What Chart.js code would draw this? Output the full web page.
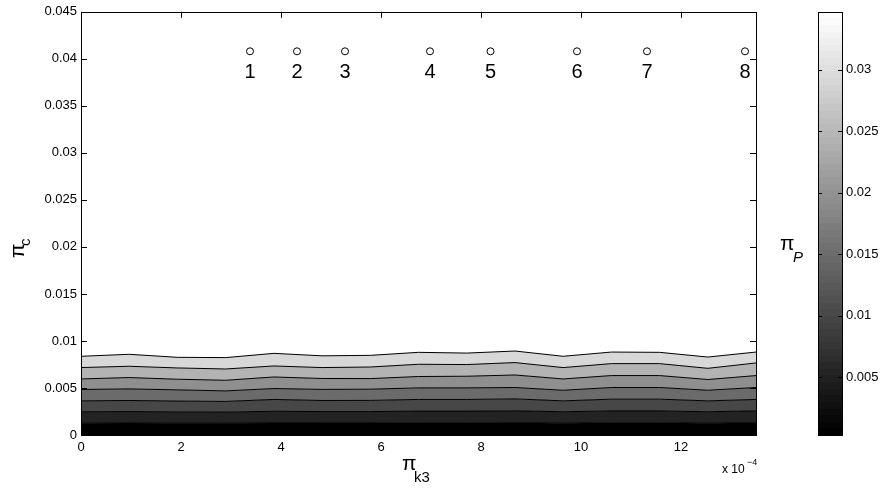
<!DOCTYPE html>
<html>
<head>
<meta charset="utf-8">
<script src="https://cdn.jsdelivr.net/npm/chart.js@4.4.1/dist/chart.umd.min.js"></script>
<style>
  html, body { margin: 0; padding: 0; background: #fff; }
  #wrap { position: relative; width: 881px; height: 489px; }
  #wrap canvas { position: absolute; left: 0; top: 0; }
</style>
</head>
<body>
<div id="wrap">
  <canvas id="main" width="881" height="489"></canvas>
  <canvas id="cbar" width="881" height="489"></canvas>
</div>
<script>
// π_k3 sample grid, in units of 1e-4 (axis multiplier shown as "x 10^-4")
const k3Grid = [0, 0.964, 1.929, 2.893, 3.857, 4.821, 5.786, 6.750, 7.714, 8.679, 9.643, 10.607, 11.571, 12.536, 13.5];

// π_c along each π_P iso-line, lowest level first
const isoLine1 = [0.00126, 0.00127, 0.00126, 0.00125, 0.00128, 0.00127, 0.00127, 0.00129, 0.00129, 0.00130, 0.00126, 0.00129, 0.00129, 0.00126, 0.00130];
const isoLine2 = [0.00247, 0.00249, 0.00246, 0.00244, 0.00252, 0.00249, 0.00249, 0.00254, 0.00254, 0.00257, 0.00247, 0.00256, 0.00256, 0.00247, 0.00257];
const isoLine3 = [0.00363, 0.00367, 0.00361, 0.00357, 0.00378, 0.00367, 0.00368, 0.00378, 0.00378, 0.00384, 0.00363, 0.00381, 0.00381, 0.00363, 0.00378];
const isoLine4 = [0.00484, 0.00490, 0.00480, 0.00469, 0.00494, 0.00485, 0.00487, 0.00501, 0.00501, 0.00505, 0.00476, 0.00505, 0.00505, 0.00476, 0.00505];
const isoLine5 = [0.00596, 0.00611, 0.00593, 0.00582, 0.00617, 0.00601, 0.00600, 0.00622, 0.00625, 0.00638, 0.00596, 0.00632, 0.00632, 0.00590, 0.00632];
const isoLine6 = [0.00717, 0.00731, 0.00713, 0.00702, 0.00734, 0.00717, 0.00723, 0.00752, 0.00749, 0.00770, 0.00717, 0.00759, 0.00759, 0.00709, 0.00766];
const isoLine7 = [0.00837, 0.00858, 0.00826, 0.00823, 0.00868, 0.00842, 0.00847, 0.00879, 0.00871, 0.00893, 0.00837, 0.00882, 0.00879, 0.00829, 0.00882];

// numbered operating points
const pointK3 = [3.38, 4.32, 5.28, 6.98, 8.19, 9.92, 11.32, 13.28];
const pointPc = [0.0408, 0.0408, 0.0408, 0.0408, 0.0408, 0.0408, 0.0408, 0.0408];
const pointNames = ['1', '2', '3', '4', '5', '6', '7', '8'];

// axis ticks
const xTicks = [0, 2, 4, 6, 8, 10, 12];
const yTicks = [0, 0.005, 0.01, 0.015, 0.02, 0.025, 0.03, 0.035, 0.04, 0.045];
// colour bar range and ticks (π_P)
const pPRange = [0.0003, 0.0347];
const pPTicks = [0.005, 0.01, 0.015, 0.02, 0.025, 0.03];

// fill of each band, below iso-line 1 up to below iso-line 7
const bandFills = ['#000000', '#232323', '#474747', '#6b6b6b', '#8f8f8f', '#b3b3b3', '#d8d8d8'];

const FONT = "'Liberation Sans', Arial, Helvetica, sans-serif";
const fmt = v => String(+(+v).toFixed(4));

const isoLines = [isoLine1, isoLine2, isoLine3, isoLine4, isoLine5, isoLine6, isoLine7];
const datasets = isoLines.map((line, i) => ({
  type: 'line',
  data: k3Grid.map((x, j) => ({ x: x, y: line[j] })),
  borderColor: '#000',
  borderWidth: 1,
  backgroundColor: bandFills[i],
  fill: i === 0 ? 'origin' : '-1',
  pointRadius: 0,
  tension: 0
}));
datasets.push({
  type: 'scatter',
  data: pointK3.map((x, j) => ({ x: x, y: pointPc[j] })),
  pointStyle: 'circle',
  pointRadius: 3.5,
  pointBackgroundColor: '#fff',
  pointBorderColor: '#000',
  pointBorderWidth: 1,
  showLine: false,
  fill: false
});

function inwardTicks(ctx, area, xs, ys, len) {
  ctx.save();
  ctx.strokeStyle = '#000';
  ctx.lineWidth = 1;
  ctx.beginPath();
  xs.forEach(px => {
    const x = Math.round(px) + 0.5;
    ctx.moveTo(x, area.bottom); ctx.lineTo(x, area.bottom - len);
    ctx.moveTo(x, area.top); ctx.lineTo(x, area.top + len);
  });
  ys.forEach(py => {
    const y = Math.round(py) + 0.5;
    ctx.moveTo(area.left, y); ctx.lineTo(area.left + len, y);
    ctx.moveTo(area.right, y); ctx.lineTo(area.right - len, y);
  });
  ctx.stroke();
  ctx.strokeRect(Math.round(area.left) + 0.5, Math.round(area.top) + 0.5,
                 Math.round(area.right - area.left), Math.round(area.bottom - area.top));
  ctx.restore();
}

const frameAndLabels = {
  id: 'frameAndLabels',
  beforeDraw(chart) {
    const c = chart.ctx;
    c.save();
    c.fillStyle = '#fff';
    c.fillRect(0, 0, chart.width, chart.height);
    c.restore();
  },
  afterDraw(chart) {
    const c = chart.ctx;
    const a = chart.chartArea;
    const sx = chart.scales.x, sy = chart.scales.y;
    inwardTicks(c, a,
      sx.ticks.map(t => sx.getPixelForValue(t.value)),
      sy.ticks.map(t => sy.getPixelForValue(t.value)), 6);

    c.save();
    c.fillStyle = '#000';
    c.textBaseline = 'alphabetic';
    c.textAlign = 'center';
    // numbers under the operating points
    const meta = chart.getDatasetMeta(chart.data.datasets.length - 1);
    c.font = '20px ' + FONT;
    meta.data.forEach((pt, j) => c.fillText(pointNames[j], pt.x, pt.y + 27));

    c.textAlign = 'left';
    // x axis title π_k3
    c.font = '21px ' + FONT;
    c.fillText('π', 402, 470);
    c.font = '15px ' + FONT;
    c.fillText('k3', 414, 482);
    // multiplier
    c.font = '12px ' + FONT;
    c.fillText('x 10', 722, 473);
    c.font = '9px ' + FONT;
    c.fillText('\u22124', 747, 465);
    // colour bar title π_P
    c.font = '21px ' + FONT;
    c.fillText('π', 780, 250);
    c.font = 'italic 15px ' + FONT;
    c.fillText('P', 793, 262);
    // y axis title π_c (rotated)
    c.translate(24, 258);
    c.rotate(-Math.PI / 2);
    c.font = '21px ' + FONT;
    c.fillText('π', 0, 0);
    c.font = '15px ' + FONT;
    c.fillText('c', 12, 6);
    c.restore();
  }
};

new Chart(document.getElementById('main'), {
  type: 'line',
  data: { datasets: datasets },
  options: {
    responsive: false,
    animation: false,
    devicePixelRatio: 1,
    layout: { padding: { left: 0, top: 10, right: 125, bottom: 0 }, autoPadding: false },
    plugins: {
      legend: { display: false },
      tooltip: { enabled: false },
      filler: { drawTime: 'beforeDatasetsDraw' }
    },
    scales: {
      x: {
        type: 'linear', min: 0, max: 13.5,
        grid: { display: false, drawTicks: false },
        border: { display: false },
        afterBuildTicks: s => { s.ticks = xTicks.map(v => ({ value: v })); },
        ticks: { padding: 5, color: '#000', font: { family: FONT, size: 13 }, maxRotation: 0, callback: v => fmt(v) },
        afterFit: s => { s.height = 54; }
      },
      y: {
        type: 'linear', min: 0, max: 0.045,
        grid: { display: false, drawTicks: false },
        border: { display: false },
        afterBuildTicks: s => { s.ticks = yTicks.map(v => ({ value: v })); },
        ticks: { padding: 4, color: '#000', font: { family: FONT, size: 13 }, callback: v => fmt(v) },
        afterFit: s => { s.width = 81; }
      }
    }
  },
  plugins: [frameAndLabels]
});

// colour bar: MATLAB-style 64-step gray map
function grayMap(ctx) {
  const area = ctx.chart.chartArea;
  if (!area) return '#888';
  const g = ctx.chart.ctx.createLinearGradient(0, area.bottom, 0, area.top);
  const n = 64;
  for (let k = 0; k < n; k++) {
    const v = Math.round(255 * k / (n - 1));
    const col = 'rgb(' + v + ',' + v + ',' + v + ')';
    g.addColorStop(k / n, col);
    g.addColorStop((k + 1) / n, col);
  }
  return g;
}

const cbarFrame = {
  id: 'cbarFrame',
  afterDraw(chart) {
    const sy = chart.scales.y;
    inwardTicks(chart.ctx, chart.chartArea, [],
      sy.ticks.map(t => sy.getPixelForValue(t.value)), 4);
  }
};

new Chart(document.getElementById('cbar'), {
  type: 'bar',
  data: {
    labels: ['πP'],
    datasets: [{
      data: [pPRange],
      backgroundColor: grayMap,
      borderWidth: 0,
      barPercentage: 1,
      categoryPercentage: 1
    }]
  },
  options: {
    responsive: false,
    animation: false,
    devicePixelRatio: 1,
    layout: { padding: { left: 818, top: 10, right: 0, bottom: 54 }, autoPadding: false },
    plugins: { legend: { display: false }, tooltip: { enabled: false } },
    scales: {
      x: { display: false },
      y: {
        position: 'right',
        min: pPRange[0], max: pPRange[1],
        grid: { display: false, drawTicks: false },
        border: { display: false },
        afterBuildTicks: s => { s.ticks = pPTicks.map(v => ({ value: v })); },
        ticks: { padding: 4, color: '#000', font: { family: FONT, size: 13 }, callback: v => fmt(v) },
        afterFit: s => { s.width = 39; }
      }
    }
  },
  plugins: [cbarFrame]
});
</script>
</body>
</html>
